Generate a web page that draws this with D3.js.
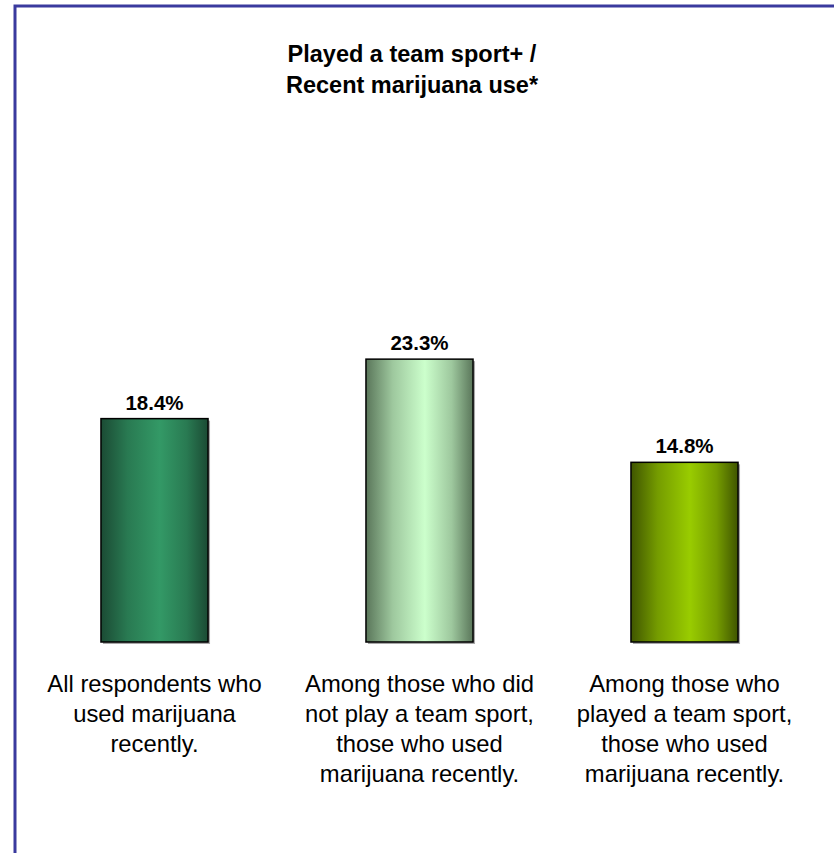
<!DOCTYPE html>
<html>
<head>
<meta charset="utf-8">
<script src="https://cdn.jsdelivr.net/npm/d3@7"></script>
<style>
  html, body { margin: 0; padding: 0; background: #fff; }
  svg { display: block; }
</style>
</head>
<body>
<svg id="chart" width="834" height="853"></svg>
<script>
// ---- data ----
const categories = [
  ["All respondents who", "used marijuana", "recently."],
  ["Among those who did", "not play a team sport,", "those who used", "marijuana recently."],
  ["Among those who", "played a team sport,", "those who used", "marijuana recently."]
];
const values = [18.4, 23.3, 14.8];
const valueLabels = ["18.4%", "23.3%", "14.8%"];
const titleLines = ["Played a team sport+ /", "Recent marijuana use*"];
const lightColors = ["#339966", "#ccffcc", "#99cc00"];
const darkColors = ["#1b4b34", "#5a765a", "#3f5500"];

// ---- layout ----
const svg = d3.select("#chart");
const W = 834, H = 853;
const baseY = 642;

const x = d3.scaleBand()
  .domain(d3.range(values.length))
  .range([22, 817])
  .paddingInner(0.596)
  .paddingOuter(0.298);

const y = d3.scaleLinear().domain([0, 30]).range([baseY, baseY - 30 * 12.14]);

// gradients
const defs = svg.append("defs");
values.forEach((v, i) => {
  const g = defs.append("linearGradient")
    .attr("id", "grad" + i)
    .attr("x1", "0%").attr("x2", "100%").attr("y1", "0%").attr("y2", "0%");
  const mid = d3.interpolateRgb(darkColors[i], lightColors[i]);
  g.append("stop").attr("offset", "0%").attr("stop-color", darkColors[i]);
  g.append("stop").attr("offset", "25%").attr("stop-color", mid(0.6));
  g.append("stop").attr("offset", "55%").attr("stop-color", lightColors[i]);
  g.append("stop").attr("offset", "80%").attr("stop-color", mid(0.6));
  g.append("stop").attr("offset", "100%").attr("stop-color", darkColors[i]);
});

// frame
svg.append("path")
  .attr("d", `M15,${H} L15,6 L${W},6`)
  .attr("fill", "none")
  .attr("stroke", "#3a3a9e")
  .attr("stroke-width", 3);

// title
svg.append("text")
  .attr("x", 412)
  .attr("text-anchor", "middle")
  .attr("font-family", "Liberation Sans, Arial, sans-serif")
  .attr("font-weight", "bold")
  .attr("font-size", 23.5)
  .attr("fill", "#000")
  .selectAll("tspan")
  .data(titleLines)
  .join("tspan")
  .attr("x", 412)
  .attr("y", (d, i) => 62 + i * 31)
  .text(d => d);

// shadows
svg.append("g").selectAll("rect")
  .data(values)
  .join("rect")
  .attr("x", (d, i) => x(i) + 2)
  .attr("y", d => y(d) + 2)
  .attr("width", x.bandwidth())
  .attr("height", d => baseY - y(d))
  .attr("fill", "#a8a8a8");

// bars
svg.append("g").selectAll("rect")
  .data(values)
  .join("rect")
  .attr("x", (d, i) => x(i))
  .attr("y", d => y(d))
  .attr("width", x.bandwidth())
  .attr("height", d => baseY - y(d))
  .attr("fill", (d, i) => `url(#grad${i})`)
  .attr("stroke", "#000")
  .attr("stroke-width", 1.5);

// value labels
svg.append("g").selectAll("text")
  .data(values)
  .join("text")
  .attr("x", (d, i) => x(i) + x.bandwidth() / 2)
  .attr("y", d => y(d) - 9)
  .attr("text-anchor", "middle")
  .attr("font-family", "Liberation Sans, Arial, sans-serif")
  .attr("font-weight", "bold")
  .attr("font-size", 20.5)
  .attr("fill", "#000")
  .text((d, i) => valueLabels[i]);

// category labels
const cat = svg.append("g").selectAll("text")
  .data(categories)
  .join("text")
  .attr("text-anchor", "middle")
  .attr("font-family", "Liberation Sans, Arial, sans-serif")
  .attr("font-size", 23.8)
  .attr("fill", "#000");
cat.each(function(lines, i) {
  d3.select(this).selectAll("tspan")
    .data(lines)
    .join("tspan")
    .attr("x", x(i) + x.bandwidth() / 2)
    .attr("y", (d, j) => 692 + j * 30)
    .text(d => d);
});
</script>
</body>
</html>
